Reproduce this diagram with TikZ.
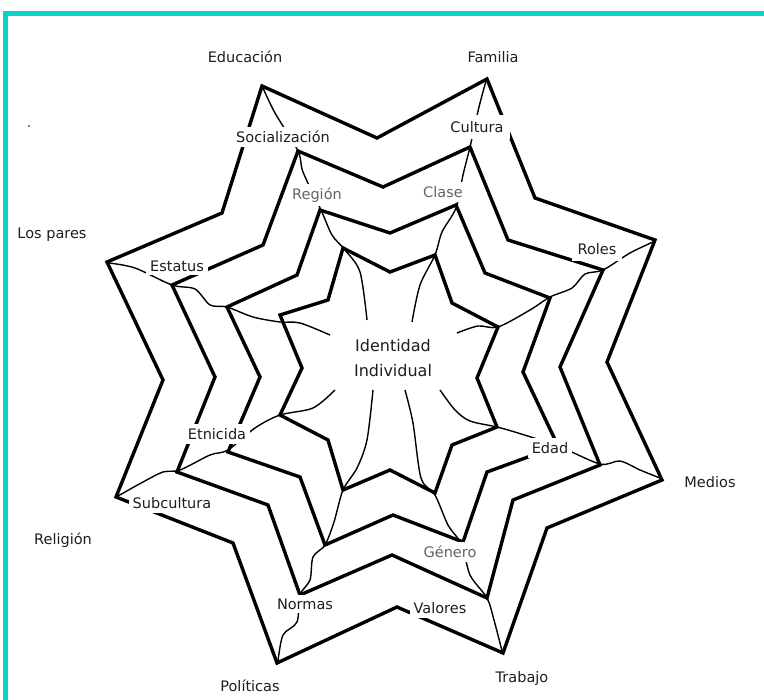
\documentclass[tikz,border=0pt]{standalone}
\usepackage{fontspec}
\setmainfont{DejaVu Sans}
\definecolor{framecyan}{RGB}{10,212,200}
\definecolor{labelgray}{RGB}{30,30,30}
\definecolor{palegray}{RGB}{100,100,100}

\begin{document}
\begin{tikzpicture}[
    x=1pt, y=-1pt,
    starline/.style={line width=3.4pt, line join=miter},
    ray/.style={line width=1.4pt},
    lbl/.style={
        fill=white,
        inner sep=4pt,
        text=labelgray,
        font=\fontsize{14.5}{16}\selectfont
    },
    lblpale/.style={lbl, text=palegray}
]
\useasboundingbox (0,0) rectangle (764,700);

% frame
\draw[framecyan, line width=5pt] (5.8,700) |- (764,13.5);
\node[circle, fill=black, inner sep=0.6pt] (dot) at (29,126) {};

% rays through the star points
\draw[ray] plot[smooth, tension=0.5] coordinates {(263,88) (275,113) (298,151) (303,172) (321,210) (332,235) (345,250) (360,272) (367,320)};
\draw[ray] plot[smooth, tension=0.5] coordinates {(486,81) (479,107) (470,147) (463,175) (456,208) (442,232) (435,255) (420,285) (412,322)};
\draw[ray] plot[smooth, tension=0.5] coordinates {(653,242) (630,253) (603,270) (585,274) (572,288) (550,297) (530,310) (498,327) (478,326) (457,333)};
\draw[ray] plot[smooth, tension=0.5] coordinates {(660,478) (640,470) (620,461) (600,464) (558,446) (518,433) (497,427) (470,421) (455,410) (440,390)};
\draw[ray] plot[smooth, tension=0.5] coordinates {(502,651) (494,620) (487,598) (470,575) (462,545) (448,525) (435,495) (421,478) (413,423) (405,390)};
\draw[ray] plot[smooth, tension=0.5] coordinates {(278,661) (283,635) (297,622) (300,595) (310,580) (313,557) (325,545) (334,522) (343,490) (357,468) (367,440) (373,390)};
\draw[ray] plot[smooth, tension=0.5] coordinates {(118,496) (143,482) (163,472) (180,470) (210,455) (228,450) (255,428) (280,415) (313,408) (335,390)};
\draw[ray] plot[smooth, tension=0.5] coordinates {(109,263) (135,268) (172,285) (195,289) (210,305) (227,307) (253,317) (280,322) (300,323) (330,335)};

% outer star
\draw[starline] (262,86) -- (377,138) -- (487,79) -- (535,198) -- (655,240) -- (607,362)
    -- (662,480) -- (547,528) -- (503,653) -- (397,607) -- (277,663) -- (233,543)
    -- (116,497) -- (163,380) -- (107,262) -- (222,213) -- cycle;
% third star
\draw[starline] (298,151) -- (383,187) -- (470,147) -- (508,240) -- (603,270) -- (560,367)
    -- (600,465) -- (513,500) -- (487,598) -- (392,555) -- (300,595) -- (268,505)
    -- (177,472) -- (215,377) -- (172,285) -- (263,245) -- cycle;
% second star
\draw[starline] (320,210) -- (390,233) -- (456,205) -- (485,273) -- (550,298) -- (523,372)
    -- (558,446) -- (487,472) -- (463,542) -- (393,515) -- (325,545) -- (300,477)
    -- (228,452) -- (260,377) -- (227,307) -- (297,275) -- cycle;
% inner star
\draw[starline] (343,248) -- (390,272) -- (435,255) -- (452,303) -- (498,327) -- (477,378)
    -- (497,427) -- (452,445) -- (435,493) -- (390,470) -- (343,490) -- (328,440)
    -- (280,415) -- (302,368) -- (280,315) -- (328,300) -- cycle;

% labels
\node[lbl] (educacion) at (245,57) {Educación};
\node[lbl] (familia) at (493,57) {Familia};
\node[lbl] (socializacion) at (283,137) {Socialización};
\node[lbl, inner sep=6pt] (cultura) at (477,127) {Cultura};
\node[lblpale] (region) at (317,195) {Región};
\node[lblpale] (clase) at (443,192) {Clase};
\node[lbl] (lospares) at (52,235) {Los pares};
\node[lbl] (estatus) at (177,266) {Estatus};
\node[lbl, inner sep=6pt] (roles) at (597,249) {Roles};
\node[lbl, align=center, font=\fontsize{16}{25}\selectfont] (identidad) at (393,358) {Identidad\\Individual};
\node[lbl] (etnicida) at (217,434) {Etnicida};
\node[lbl] (edad) at (550,448) {Edad};
\node[lbl] (medios) at (710,482) {Medios};
\node[lbl] (subcultura) at (172,503) {Subcultura};
\node[lbl] (religion) at (63,540) {Religión};
\node[lblpale] (genero) at (450,552) {Género};
\node[lbl] (normas) at (305,604) {Normas};
\node[lbl] (valores) at (440,608) {Valores};
\node[lbl] (trabajo) at (522,678) {Trabajo};
\node[lbl] (politicas) at (250,686) {Políticas};
\end{tikzpicture}
\end{document}
